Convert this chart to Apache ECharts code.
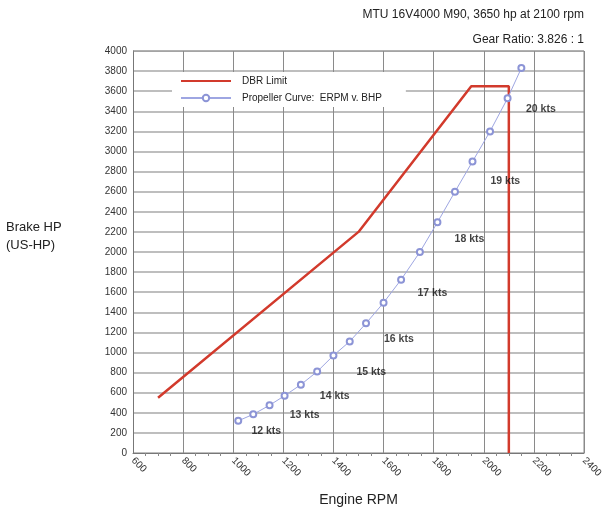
<!DOCTYPE html>
<html>
<head>
<meta charset="utf-8">
<script src="https://cdn.jsdelivr.net/npm/echarts@6/dist/echarts.min.js"></script>
<style>html,body{margin:0;padding:0;background:#fff}#c{width:608px;height:512px}</style>
</head>
<body>
<div id="c"></div>
<script>
// ---- data ----
var titleLines = ['MTU 16V4000 M90, 3650 hp at 2100 rpm', 'Gear Ratio: 3.826 : 1'];
var xTickMin = 600, xTickMax = 2400, xTickStep = 200;
var yTickMin = 0, yTickMax = 4000, yTickStep = 200;

var dbrRpm = [700, 1500, 1950, 2100, 2100];
var dbrHp  = [550, 2200, 3650, 3650, 0];

var propRpm = [1020, 1080, 1145, 1205, 1270, 1335, 1400, 1465, 1530, 1600, 1670, 1745, 1815, 1885, 1955, 2025, 2095, 2150];
var propHp  = [320, 385, 475, 570, 680, 810, 970, 1110, 1290, 1495, 1725, 2000, 2295, 2600, 2900, 3200, 3530, 3830];

var ktsText = ['12 kts', '13 kts', '14 kts', '15 kts', '16 kts', '17 kts', '18 kts', '19 kts', '20 kts'];
var ktsRpm  = [1132, 1285, 1405, 1551, 1661, 1795, 1943, 2086, 2228];
var ktsHp   = [215, 377, 563, 807, 1138, 1588, 2124, 2703, 3421];

// ---- build ----
function zip(a, b) { return a.map(function (v, i) { return [v, b[i]]; }); }
var ktsData = ktsRpm.map(function (v, i) { return { value: [v, ktsHp[i]], name: ktsText[i] }; });

var chart = echarts.init(document.getElementById('c'), null, { renderer: 'canvas' });
var font = 'Liberation Sans, Arial, sans-serif';
chart.setOption({
  animation: false,
  backgroundColor: '#fff',
  textStyle: { fontFamily: font },
  grid: { left: 133, right: 24, top: 51, bottom: 58, show: false },
  graphic: [
    { type: 'text', right: 24, top: 9, style: { text: titleLines[0], font: '12px ' + font, fill: '#222' } },
    { type: 'text', right: 24, top: 34, style: { text: titleLines[1], font: '12px ' + font, fill: '#222' } },
    { type: 'text', left: 6, top: 218, style: { text: 'Brake HP\n(US-HP)', font: '13px ' + font, fill: '#222', lineHeight: 18 } }
  ],
  legend: {
    left: 172, top: 72, orient: 'vertical', itemWidth: 50, itemHeight: 8, itemGap: 7,
    backgroundColor: '#fff', padding: [4, 24, 4, 8],
    textStyle: { fontSize: 10, color: '#222', fontFamily: font, padding: [0, 0, 0, 6] },
    data: [
      { name: 'DBR Limit', itemStyle: { opacity: 0 } },
      { name: 'Propeller Curve:  ERPM v. BHP' }
    ]
  },
  xAxis: {
    type: 'value', min: xTickMin, max: xTickMax, interval: xTickStep,
    name: 'Engine RPM', nameLocation: 'middle', nameGap: 40,
    nameTextStyle: { fontSize: 14, color: '#222', fontFamily: font },
    axisLine: { show: true, onZero: false, lineStyle: { color: '#777', width: 1 } },
    axisTick: { show: false },
    minorTick: { show: true, splitNumber: 4, length: 3, lineStyle: { color: '#888' } },
    axisLabel: { rotate: -45, fontSize: 10, color: '#333', margin: 6, fontFamily: font, formatter: function (v) { return String(v); } },
    splitLine: { show: true, lineStyle: { color: '#8a8a8a', width: 1 } }
  },
  yAxis: {
    type: 'value', min: yTickMin, max: yTickMax, interval: yTickStep,
    axisLine: { show: true, lineStyle: { color: '#777', width: 1 } },
    axisTick: { show: false },
    axisLabel: { fontSize: 10, color: '#333', margin: 6, fontFamily: font, formatter: function (v) { return String(v); } },
    splitLine: { show: true, lineStyle: { color: '#a8a8a8', width: 1.5 } }
  },
  series: [
    {
      name: 'DBR Limit', type: 'line', data: zip(dbrRpm, dbrHp),
      symbol: 'none', lineStyle: { color: '#d23a2c', width: 2.5 }, itemStyle: { color: '#d23a2c' }, z: 3
    },
    {
      name: 'Propeller Curve:  ERPM v. BHP', type: 'line', data: zip(propRpm, propHp),
      symbol: 'emptyCircle', symbolSize: 6,
      lineStyle: { color: '#9ea6e2', width: 1 }, itemStyle: { color: '#8c94d6', borderWidth: 1 }, z: 4
    },
    {
      name: 'kts', type: 'scatter', data: ktsData, symbolSize: 0, silent: true, z: 5,
      label: { show: true, position: 'inside', formatter: '{b}', fontSize: 10.5, fontWeight: 'bold', color: '#111', fontFamily: font }
    },
    {
      name: 'border', type: 'line', silent: true, symbol: 'none', data: [[xTickMax, yTickMin], [xTickMax, yTickMax], [xTickMin, yTickMax]],
      lineStyle: { color: '#8a8a8a', width: 1 }, z: 1
    }
  ]
});
</script>
</body>
</html>
